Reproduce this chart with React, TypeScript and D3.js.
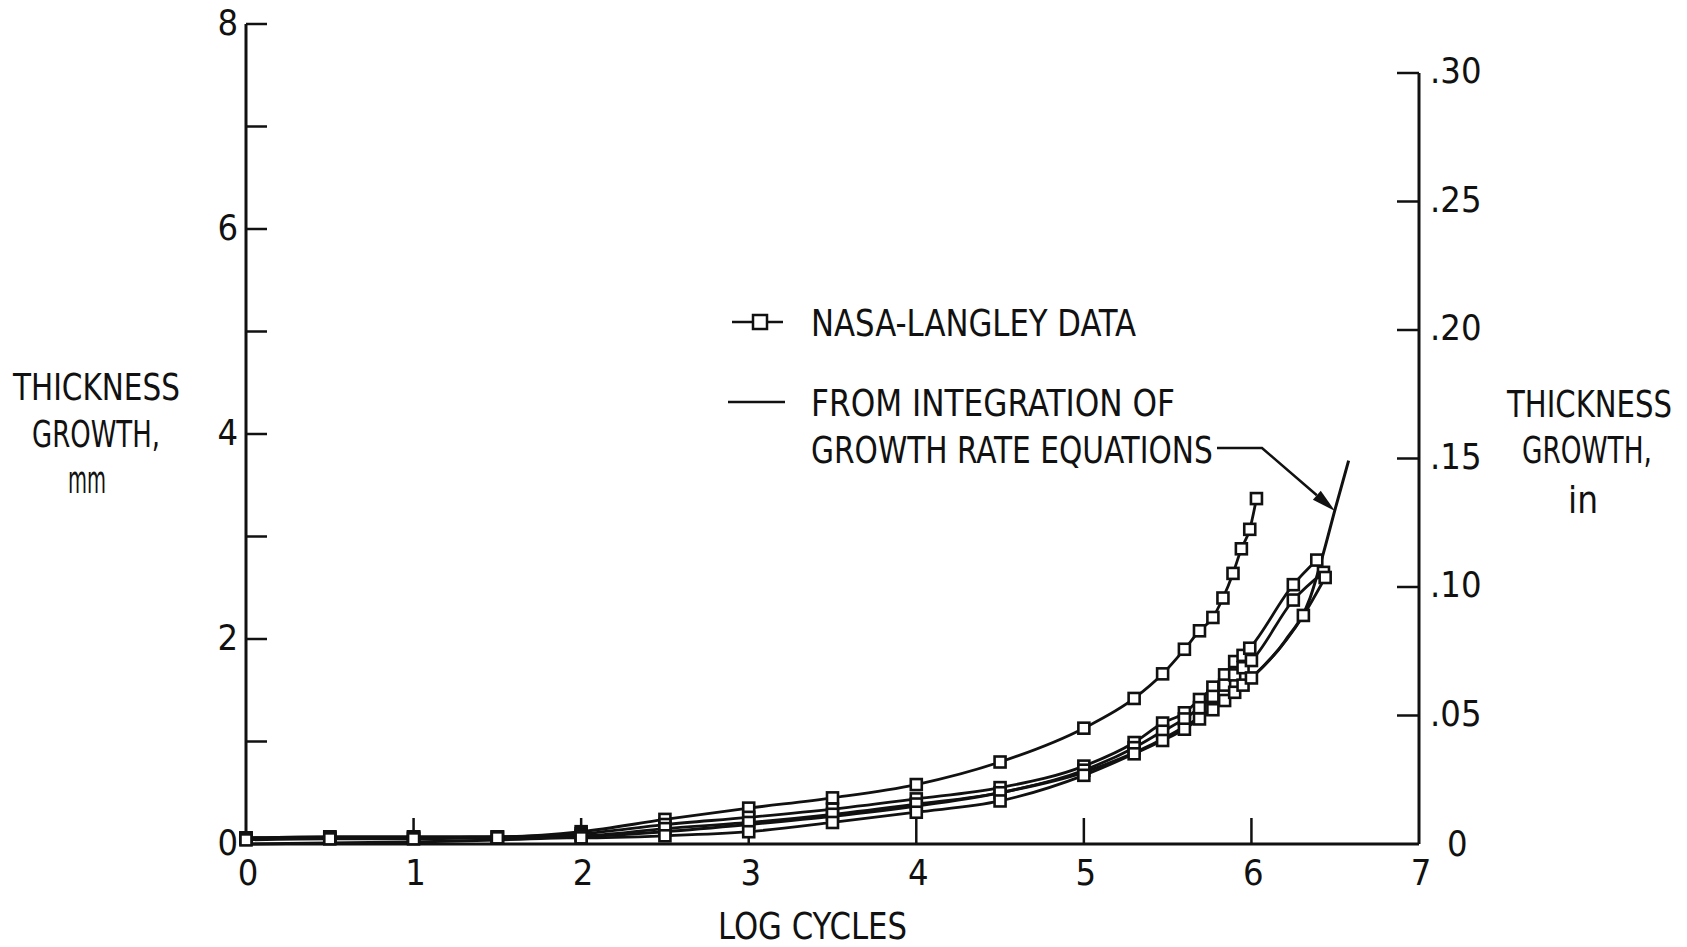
import React from 'react';
import * as d3 from 'd3';

const W = 1687;
const H = 947;

// Axis ticks
const xTicks = [0, 1, 2, 3, 4, 5, 6, 7];
const xTickLabels = ['0', '1', '2', '3', '4', '5', '6', '7'];
const yMajorTicks = [0, 2, 4, 6, 8];
const yMajorLabels = ['0', '2', '4', '6', '8'];
const yMinorTicks = [1, 3, 5, 7];
const yRightTicks = [0.05, 0.1, 0.15, 0.2, 0.25, 0.3];
const yRightLabels = ['.05', '.10', '.15', '.20', '.25', '.30'];

// NASA-Langley data (log cycles, thickness growth mm)
const seriesAX = [0, 0.5, 1.0, 1.5, 2.0, 2.5, 3.0, 3.5, 4.0, 4.5, 5.0, 5.3, 5.47, 5.6, 5.69, 5.77, 5.83, 5.89, 5.94, 5.99, 6.03];
const seriesAY = [0.06, 0.07, 0.07, 0.07, 0.12, 0.24, 0.35, 0.45, 0.58, 0.8, 1.13, 1.42, 1.66, 1.9, 2.08, 2.21, 2.4, 2.64, 2.88, 3.07, 3.37];

const seriesBX = [0, 0.5, 1.0, 1.5, 2.0, 2.5, 3.0, 3.5, 4.0, 4.5, 5.0, 5.3, 5.47, 5.6, 5.69, 5.77, 5.84, 5.9, 5.95, 5.99, 6.25, 6.39];
const seriesBY = [0.06, 0.07, 0.07, 0.07, 0.1, 0.19, 0.26, 0.34, 0.44, 0.55, 0.76, 0.99, 1.18, 1.28, 1.41, 1.53, 1.65, 1.78, 1.84, 1.91, 2.53, 2.77];

const seriesCX = [0, 0.5, 1.0, 1.5, 2.0, 2.5, 3.0, 3.5, 4.0, 4.5, 5.0, 5.3, 5.47, 5.6, 5.69, 5.77, 5.84, 5.9, 5.95, 6.0, 6.25, 6.43];
const seriesCY = [0.05, 0.06, 0.06, 0.07, 0.08, 0.15, 0.21, 0.29, 0.39, 0.5, 0.72, 0.94, 1.1, 1.22, 1.33, 1.44, 1.55, 1.65, 1.72, 1.79, 2.38, 2.65];

const seriesDX = [0, 0.5, 1.0, 1.5, 2.0, 2.5, 3.0, 3.5, 4.0, 4.5, 5.0, 5.3, 5.47, 5.6, 5.69, 5.77, 5.84, 5.9, 5.95, 6.0, 6.31, 6.44];
const seriesDY = [0.04, 0.05, 0.05, 0.06, 0.06, 0.08, 0.12, 0.21, 0.31, 0.42, 0.67, 0.88, 1.01, 1.12, 1.22, 1.31, 1.4, 1.48, 1.55, 1.62, 2.23, 2.6];

// Integration of growth rate equations
const integX = [0, 0.5, 1.0, 1.5, 2.0, 2.5, 3.0, 3.5, 4.0, 4.5, 5.0, 5.5, 5.75, 6.0, 6.2, 6.35, 6.43, 6.5, 6.58];
const integY = [0.0, 0.01, 0.02, 0.04, 0.07, 0.12, 0.19, 0.27, 0.37, 0.5, 0.7, 1.05, 1.3, 1.62, 1.98, 2.4, 2.84, 3.27, 3.74];

const dataSeries = [
  { name: 'A', xs: seriesAX, ys: seriesAY },
  { name: 'B', xs: seriesBX, ys: seriesBY },
  { name: 'C', xs: seriesCX, ys: seriesCY },
  { name: 'D', xs: seriesDX, ys: seriesDY },
];

const FONT_NAME = 'DejaVu Sans Condensed';
const FONT = "'DejaVu Sans Condensed', 'Liberation Sans', sans-serif";

let measureCtx: CanvasRenderingContext2D | null = null;
function measure(text: string, size: number): number {
  if (typeof document === 'undefined') return text.length * size * 0.55;
  if (!measureCtx) {
    const c = document.createElement('canvas');
    measureCtx = c.getContext('2d');
  }
  if (!measureCtx) return text.length * size * 0.55;
  measureCtx.font = `${size}px '${FONT_NAME}', sans-serif`;
  return measureCtx.measureText(text).width;
}

// Text squeezed horizontally to a target width (start-anchored at x, baseline y)
function FitText({ x, y, width, size, children }: { x: number; y: number; width: number; size: number; children: string }) {
  const natural = measure(children, size);
  const sx = natural > 0 ? width / natural : 1;
  return (
    <text transform={`translate(${x},${y}) scale(${sx},1)`} fontSize={size} fill="#111">
      {children}
    </text>
  );
}

export default function App() {
  const x = d3.scaleLinear().domain([0, 7]).range([246, 1419]);
  const y = d3.scaleLinear().domain([0, 8]).range([844, 24]);
  const yIn = d3.scaleLinear().domain([0, 0.3]).range([844, 73]);

  const line = d3
    .line<[number, number]>()
    .x((d) => x(d[0]))
    .y((d) => y(d[1]))
    .curve(d3.curveMonotoneX);

  const ink = '#111';
  const msize = 11;

  // arrow geometry
  const aStart: [number, number] = [1217, 448];
  const aBend: [number, number] = [1262, 448];
  const aTip: [number, number] = [1335, 511];
  const dx = aTip[0] - aBend[0];
  const dy = aTip[1] - aBend[1];
  const len = Math.hypot(dx, dy);
  const ux = dx / len;
  const uy = dy / len;
  const ah = 24;
  const aw = 6;
  const bx = aTip[0] - ux * ah;
  const by = aTip[1] - uy * ah;
  const head = `${aTip[0]},${aTip[1]} ${bx - uy * aw},${by + ux * aw} ${bx + uy * aw},${by - ux * aw}`;

  return (
    <svg
      width={W}
      height={H}
      style={{ position: 'absolute', left: 0, top: 0, background: '#fff' }}
      fontFamily={FONT}
    >
      <rect x={0} y={0} width={W} height={H} fill="#fff" />

      {/* Axes frame */}
      <line x1={x(0)} y1={y(8)} x2={x(0)} y2={y(0)} stroke={ink} strokeWidth={3} />
      <line x1={x(0)} y1={y(0)} x2={x(7)} y2={y(0)} stroke={ink} strokeWidth={3} />
      <line x1={x(7)} y1={yIn(0.3)} x2={x(7)} y2={yIn(0)} stroke={ink} strokeWidth={3} />

      {/* Left ticks */}
      {yMajorTicks.map((t, i) => (
        <g key={'ym' + t}>
          {t > 0 && <line x1={x(0)} x2={x(0) + 21} y1={y(t)} y2={y(t)} stroke={ink} strokeWidth={2.5} />}
          <text x={x(0) - 8} y={y(t) + 11} fontSize={36} textAnchor="end" fill={ink}>
            {yMajorLabels[i]}
          </text>
        </g>
      ))}
      {yMinorTicks.map((t) => (
        <line key={'yn' + t} x1={x(0)} x2={x(0) + 21} y1={y(t)} y2={y(t)} stroke={ink} strokeWidth={2.5} />
      ))}

      {/* Right ticks */}
      {yRightTicks.map((t, i) => (
        <g key={'yr' + t}>
          <line x1={x(7) - 22} x2={x(7)} y1={yIn(t)} y2={yIn(t)} stroke={ink} strokeWidth={2.5} />
          <text x={x(7) + 11} y={yIn(t) + 10} fontSize={36} fill={ink}>
            {yRightLabels[i]}
          </text>
        </g>
      ))}
      <text x={x(7) + 28} y={yIn(0) + 12} fontSize={36} fill={ink}>0</text>

      {/* Bottom ticks */}
      {xTicks.map((t, i) => (
        <g key={'xt' + t}>
          {t > 0 && t < 7 && (
            <line x1={x(t)} x2={x(t)} y1={y(0)} y2={y(0) - 26} stroke={ink} strokeWidth={2.5} />
          )}
          <text x={x(t) + 2} y={885} fontSize={36} textAnchor="middle" fill={ink}>
            {xTickLabels[i]}
          </text>
        </g>
      ))}

      {/* Axis titles */}
      <FitText x={13} y={400} width={167} size={37}>THICKNESS</FitText>
      <FitText x={32} y={447} width={128} size={37}>GROWTH,</FitText>
      <FitText x={68} y={493} width={38} size={37}>mm</FitText>

      <FitText x={1507} y={417} width={165} size={37}>THICKNESS</FitText>
      <FitText x={1522} y={463} width={130} size={37}>GROWTH,</FitText>
      <FitText x={1568} y={513} width={30} size={37}>in</FitText>

      <FitText x={718} y={939} width={189} size={37}>LOG CYCLES</FitText>

      {/* Integration curve */}
      <path
        d={line(integX.map((v, i) => [v, integY[i]] as [number, number])) || ''}
        fill="none"
        stroke={ink}
        strokeWidth={3}
      />

      {/* Data series lines */}
      {dataSeries.map((s) => (
        <path
          key={'l' + s.name}
          d={line(s.xs.map((v, i) => [v, s.ys[i]] as [number, number])) || ''}
          fill="none"
          stroke={ink}
          strokeWidth={2.8}
        />
      ))}
      {/* Data markers */}
      {dataSeries.map((s) =>
        s.xs.map((v, i) => (
          <rect
            key={'m' + s.name + i}
            x={x(v) - msize / 2}
            y={y(s.ys[i]) - msize / 2}
            width={msize}
            height={msize}
            fill="#fff"
            stroke={ink}
            strokeWidth={2.6}
          />
        ))
      )}

      {/* Legend */}
      <line x1={732} x2={783} y1={322} y2={322} stroke={ink} strokeWidth={2.5} />
      <rect x={753} y={315} width={14} height={14} fill="#fff" stroke={ink} strokeWidth={2.5} />
      <FitText x={811} y={336} width={325} size={37}>NASA-LANGLEY DATA</FitText>

      <line x1={728} x2={785} y1={402} y2={402} stroke={ink} strokeWidth={2.5} />
      <FitText x={811} y={416} width={364} size={37}>FROM INTEGRATION OF</FitText>
      <FitText x={811} y={463} width={402} size={37}>GROWTH RATE EQUATIONS</FitText>

      {/* Leader arrow */}
      <polyline
        points={`${aStart[0]},${aStart[1]} ${aBend[0]},${aBend[1]} ${bx},${by}`}
        fill="none"
        stroke={ink}
        strokeWidth={2.5}
      />
      <polygon points={head} fill={ink} />
    </svg>
  );
}
